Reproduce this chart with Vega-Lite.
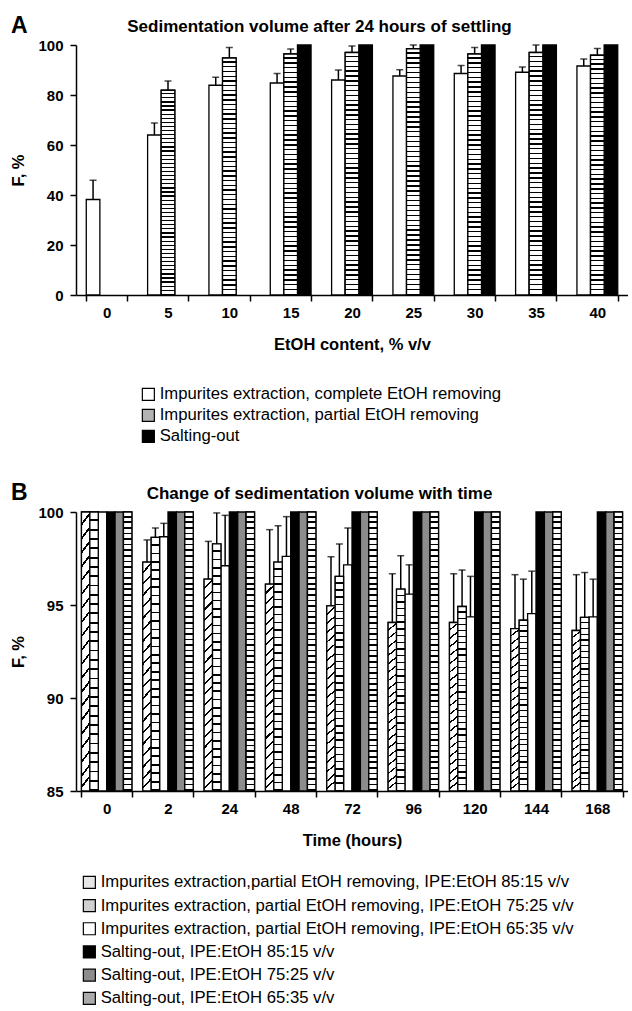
{
  "$schema": "https://vega.github.io/schema/vega-lite/v6.json",
  "padding": {"left": 10, "top": 15, "right": 0, "bottom": 0},
  "spacing": 36,
  "config": {
    "font": "Liberation Sans",
    "view": {"stroke": null},
    "axis": {
      "domainColor": "#000", "tickColor": "#000", "labelColor": "#000", "titleColor": "#000",
      "domainWidth": 1.5, "tickWidth": 1.5, "tickSize": 6, "grid": false,
      "labelFont": "Liberation Sans", "labelFontWeight": "bold", "labelFontSize": 15,
      "titleFont": "Liberation Sans", "titleFontWeight": "bold", "titleFontSize": 16.5
    },
    "title": {"font": "Liberation Sans", "fontWeight": "bold", "color": "#000"}
  },
  "datasets": {
    "a": [
      {"group": "0", "sa": "Impurites extraction, complete EtOH removing", "value": 38.2, "hi": 45.9},
      {"group": "5", "sa": "Impurites extraction, complete EtOH removing", "value": 64.0, "hi": 68.8},
      {"group": "5", "sa": "Impurites extraction, partial EtOH removing", "value": 81.9, "hi": 85.6},
      {"group": "10", "sa": "Impurites extraction, complete EtOH removing", "value": 83.9, "hi": 87.1},
      {"group": "10", "sa": "Impurites extraction, partial EtOH removing", "value": 94.8, "hi": 99.0},
      {"group": "15", "sa": "Impurites extraction, complete EtOH removing", "value": 84.8, "hi": 88.6},
      {"group": "15", "sa": "Impurites extraction, partial EtOH removing", "value": 96.4, "hi": 98.4},
      {"group": "15", "sa": "Salting-out", "value": 100},
      {"group": "20", "sa": "Impurites extraction, complete EtOH removing", "value": 86.0, "hi": 90.0},
      {"group": "20", "sa": "Impurites extraction, partial EtOH removing", "value": 97.0, "hi": 99.6},
      {"group": "20", "sa": "Salting-out", "value": 100},
      {"group": "25", "sa": "Impurites extraction, complete EtOH removing", "value": 87.6, "hi": 90.1},
      {"group": "25", "sa": "Impurites extraction, partial EtOH removing", "value": 98.5, "hi": 100},
      {"group": "25", "sa": "Salting-out", "value": 100},
      {"group": "30", "sa": "Impurites extraction, complete EtOH removing", "value": 88.6, "hi": 91.8},
      {"group": "30", "sa": "Impurites extraction, partial EtOH removing", "value": 96.4, "hi": 99.0},
      {"group": "30", "sa": "Salting-out", "value": 100},
      {"group": "35", "sa": "Impurites extraction, complete EtOH removing", "value": 89.1, "hi": 91.2},
      {"group": "35", "sa": "Impurites extraction, partial EtOH removing", "value": 97.0, "hi": 100},
      {"group": "35", "sa": "Salting-out", "value": 100},
      {"group": "40", "sa": "Impurites extraction, complete EtOH removing", "value": 91.6, "hi": 94.4},
      {"group": "40", "sa": "Impurites extraction, partial EtOH removing", "value": 95.9, "hi": 98.6},
      {"group": "40", "sa": "Salting-out", "value": 100}
    ],
    "b": [
      {"group": "0", "sb": "s1", "value": 100}, {"group": "0", "sb": "s2", "value": 100}, {"group": "0", "sb": "s3", "value": 100},
      {"group": "0", "sb": "s4", "value": 100}, {"group": "0", "sb": "s5", "value": 100}, {"group": "0", "sb": "s6", "value": 100},
      {"group": "2", "sb": "s1", "value": 97.3, "hi": 98.5}, {"group": "2", "sb": "s2", "value": 98.64, "hi": 99.14}, {"group": "2", "sb": "s3", "value": 98.67, "hi": 99.39},
      {"group": "2", "sb": "s4", "value": 100}, {"group": "2", "sb": "s5", "value": 100}, {"group": "2", "sb": "s6", "value": 100},
      {"group": "24", "sb": "s1", "value": 96.39, "hi": 98.42}, {"group": "24", "sb": "s2", "value": 98.29, "hi": 99.95}, {"group": "24", "sb": "s3", "value": 97.11, "hi": 99.82},
      {"group": "24", "sb": "s4", "value": 100}, {"group": "24", "sb": "s5", "value": 100}, {"group": "24", "sb": "s6", "value": 100},
      {"group": "48", "sb": "s1", "value": 96.12, "hi": 99.05}, {"group": "48", "sb": "s2", "value": 97.31, "hi": 99.26}, {"group": "48", "sb": "s3", "value": 97.61, "hi": 99.75},
      {"group": "48", "sb": "s4", "value": 100}, {"group": "48", "sb": "s5", "value": 100}, {"group": "48", "sb": "s6", "value": 100},
      {"group": "72", "sb": "s1", "value": 94.95, "hi": 97.59}, {"group": "72", "sb": "s2", "value": 96.54, "hi": 98.28}, {"group": "72", "sb": "s3", "value": 97.16, "hi": 99.14},
      {"group": "72", "sb": "s4", "value": 100}, {"group": "72", "sb": "s5", "value": 100}, {"group": "72", "sb": "s6", "value": 100},
      {"group": "96", "sb": "s1", "value": 94.06, "hi": 96.68}, {"group": "96", "sb": "s2", "value": 95.85, "hi": 97.65}, {"group": "96", "sb": "s3", "value": 95.58, "hi": 97.16},
      {"group": "96", "sb": "s4", "value": 100}, {"group": "96", "sb": "s5", "value": 100}, {"group": "96", "sb": "s6", "value": 100},
      {"group": "120", "sb": "s1", "value": 94.06, "hi": 96.68}, {"group": "120", "sb": "s2", "value": 94.92, "hi": 96.88}, {"group": "120", "sb": "s3", "value": 94.36, "hi": 96.54},
      {"group": "120", "sb": "s4", "value": 100}, {"group": "120", "sb": "s5", "value": 100}, {"group": "120", "sb": "s6", "value": 100},
      {"group": "144", "sb": "s1", "value": 93.73, "hi": 96.63}, {"group": "144", "sb": "s2", "value": 94.18, "hi": 96.39}, {"group": "144", "sb": "s3", "value": 94.54, "hi": 96.82},
      {"group": "144", "sb": "s4", "value": 100}, {"group": "144", "sb": "s5", "value": 100}, {"group": "144", "sb": "s6", "value": 100},
      {"group": "168", "sb": "s1", "value": 93.63, "hi": 96.63}, {"group": "168", "sb": "s2", "value": 94.33, "hi": 96.75}, {"group": "168", "sb": "s3", "value": 94.36, "hi": 96.39},
      {"group": "168", "sb": "s4", "value": 100}, {"group": "168", "sb": "s5", "value": 100}, {"group": "168", "sb": "s6", "value": 100}
    ]
  },
  "resolve": {
    "scale": {"x": "independent", "y": "independent", "fill": "independent", "xOffset": "independent"},
    "legend": {"fill": "independent"},
    "axis": {"x": "independent", "y": "independent"}
  },
  "vconcat": [
    {
      "title": {"text": "A", "anchor": "start", "fontSize": 23, "offset": -20, "frame": "bounds"},
      "vconcat": [
        {
          "title": {"text": "Sedimentation volume after 24 hours of settling", "fontSize": 17, "anchor": "middle", "frame": "bounds", "offset": 2},
          "width": 552,
          "height": 250,
          "data": {"name": "a"},
          "encoding": {
            "x": {
              "field": "group", "type": "ordinal",
              "sort": ["0", "5", "10", "15", "20", "25", "30", "35", "40"],
              "scale": {"paddingInner": 0.335, "paddingOuter": 0.1675},
              "axis": {"title": "EtOH content, % v/v", "labelAngle": 0, "tickBand": "extent", "labelPadding": 4, "titlePadding": 16}
            },
            "xOffset": {
              "field": "sa", "type": "nominal",
              "scale": {"domain": ["Impurites extraction, complete EtOH removing", "Impurites extraction, partial EtOH removing", "Salting-out"], "paddingInner": 0, "paddingOuter": 0}
            }
          },
          "layer": [
            {
              "mark": {"type": "bar", "stroke": "#000", "strokeWidth": 1.3},
              "encoding": {
                "y": {"field": "value", "type": "quantitative", "title": "F, %",
                  "scale": {"domain": [0, 100], "nice": false},
                  "axis": {"values": [0, 20, 40, 60, 80, 100], "labelPadding": 7, "titlePadding": 11}},
                "fill": {
                  "field": "sa", "type": "nominal",
                  "scale": {
                    "domain": ["Impurites extraction, complete EtOH removing", "Impurites extraction, partial EtOH removing", "Salting-out"],
                    "range": ["#ffffff", "#b3b3b3", "#000000"]
                  },
                  "legend": {
                    "orient": "none", "legendX": 64, "legendY": 341, "title": null, "direction": "vertical", "padding": 0,
                    "symbolType": "square", "symbolSize": 144, "symbolStrokeColor": "#000", "symbolStrokeWidth": 1.2,
                    "labelFont": "Liberation Sans", "labelFontSize": 16.7, "labelColor": "#000", "labelOffset": 3, "labelLimit": 600, "rowPadding": 2
                  }
                }
              }
            },
            {
              "transform": [{"filter": "datum.sa === 'Impurites extraction, partial EtOH removing'"}],
              "mark": {"type": "bar", "stroke": "#000", "strokeWidth": 1.3, "fill": {"gradient": "linear", "x1": 0, "y1": 0, "x2": 0, "y2": 1, "stops": [
                {"offset":0.014,"color":"#fff"},{"offset":0.014,"color":"#000"},{"offset":0.02,"color":"#000"},{"offset":0.02,"color":"#fff"},
                {"offset":0.034,"color":"#fff"},{"offset":0.034,"color":"#000"},{"offset":0.04,"color":"#000"},{"offset":0.04,"color":"#fff"},
                {"offset":0.054,"color":"#fff"},{"offset":0.054,"color":"#000"},{"offset":0.06,"color":"#000"},{"offset":0.06,"color":"#fff"},
                {"offset":0.074,"color":"#fff"},{"offset":0.074,"color":"#000"},{"offset":0.08,"color":"#000"},{"offset":0.08,"color":"#fff"},
                {"offset":0.094,"color":"#fff"},{"offset":0.094,"color":"#000"},{"offset":0.1,"color":"#000"},{"offset":0.1,"color":"#fff"},
                {"offset":0.114,"color":"#fff"},{"offset":0.114,"color":"#000"},{"offset":0.12,"color":"#000"},{"offset":0.12,"color":"#fff"},
                {"offset":0.134,"color":"#fff"},{"offset":0.134,"color":"#000"},{"offset":0.14,"color":"#000"},{"offset":0.14,"color":"#fff"},
                {"offset":0.154,"color":"#fff"},{"offset":0.154,"color":"#000"},{"offset":0.16,"color":"#000"},{"offset":0.16,"color":"#fff"},
                {"offset":0.174,"color":"#fff"},{"offset":0.174,"color":"#000"},{"offset":0.18,"color":"#000"},{"offset":0.18,"color":"#fff"},
                {"offset":0.194,"color":"#fff"},{"offset":0.194,"color":"#000"},{"offset":0.2,"color":"#000"},{"offset":0.2,"color":"#fff"},
                {"offset":0.214,"color":"#fff"},{"offset":0.214,"color":"#000"},{"offset":0.22,"color":"#000"},{"offset":0.22,"color":"#fff"},
                {"offset":0.234,"color":"#fff"},{"offset":0.234,"color":"#000"},{"offset":0.24,"color":"#000"},{"offset":0.24,"color":"#fff"},
                {"offset":0.254,"color":"#fff"},{"offset":0.254,"color":"#000"},{"offset":0.26,"color":"#000"},{"offset":0.26,"color":"#fff"},
                {"offset":0.274,"color":"#fff"},{"offset":0.274,"color":"#000"},{"offset":0.28,"color":"#000"},{"offset":0.28,"color":"#fff"},
                {"offset":0.294,"color":"#fff"},{"offset":0.294,"color":"#000"},{"offset":0.3,"color":"#000"},{"offset":0.3,"color":"#fff"},
                {"offset":0.314,"color":"#fff"},{"offset":0.314,"color":"#000"},{"offset":0.32,"color":"#000"},{"offset":0.32,"color":"#fff"},
                {"offset":0.334,"color":"#fff"},{"offset":0.334,"color":"#000"},{"offset":0.34,"color":"#000"},{"offset":0.34,"color":"#fff"},
                {"offset":0.354,"color":"#fff"},{"offset":0.354,"color":"#000"},{"offset":0.36,"color":"#000"},{"offset":0.36,"color":"#fff"},
                {"offset":0.374,"color":"#fff"},{"offset":0.374,"color":"#000"},{"offset":0.38,"color":"#000"},{"offset":0.38,"color":"#fff"},
                {"offset":0.394,"color":"#fff"},{"offset":0.394,"color":"#000"},{"offset":0.4,"color":"#000"},{"offset":0.4,"color":"#fff"},
                {"offset":0.414,"color":"#fff"},{"offset":0.414,"color":"#000"},{"offset":0.42,"color":"#000"},{"offset":0.42,"color":"#fff"},
                {"offset":0.434,"color":"#fff"},{"offset":0.434,"color":"#000"},{"offset":0.44,"color":"#000"},{"offset":0.44,"color":"#fff"},
                {"offset":0.454,"color":"#fff"},{"offset":0.454,"color":"#000"},{"offset":0.46,"color":"#000"},{"offset":0.46,"color":"#fff"},
                {"offset":0.474,"color":"#fff"},{"offset":0.474,"color":"#000"},{"offset":0.48,"color":"#000"},{"offset":0.48,"color":"#fff"},
                {"offset":0.494,"color":"#fff"},{"offset":0.494,"color":"#000"},{"offset":0.5,"color":"#000"},{"offset":0.5,"color":"#fff"},
                {"offset":0.514,"color":"#fff"},{"offset":0.514,"color":"#000"},{"offset":0.52,"color":"#000"},{"offset":0.52,"color":"#fff"},
                {"offset":0.534,"color":"#fff"},{"offset":0.534,"color":"#000"},{"offset":0.54,"color":"#000"},{"offset":0.54,"color":"#fff"},
                {"offset":0.554,"color":"#fff"},{"offset":0.554,"color":"#000"},{"offset":0.56,"color":"#000"},{"offset":0.56,"color":"#fff"},
                {"offset":0.574,"color":"#fff"},{"offset":0.574,"color":"#000"},{"offset":0.58,"color":"#000"},{"offset":0.58,"color":"#fff"},
                {"offset":0.594,"color":"#fff"},{"offset":0.594,"color":"#000"},{"offset":0.6,"color":"#000"},{"offset":0.6,"color":"#fff"},
                {"offset":0.614,"color":"#fff"},{"offset":0.614,"color":"#000"},{"offset":0.62,"color":"#000"},{"offset":0.62,"color":"#fff"},
                {"offset":0.634,"color":"#fff"},{"offset":0.634,"color":"#000"},{"offset":0.64,"color":"#000"},{"offset":0.64,"color":"#fff"},
                {"offset":0.654,"color":"#fff"},{"offset":0.654,"color":"#000"},{"offset":0.66,"color":"#000"},{"offset":0.66,"color":"#fff"},
                {"offset":0.674,"color":"#fff"},{"offset":0.674,"color":"#000"},{"offset":0.68,"color":"#000"},{"offset":0.68,"color":"#fff"},
                {"offset":0.694,"color":"#fff"},{"offset":0.694,"color":"#000"},{"offset":0.7,"color":"#000"},{"offset":0.7,"color":"#fff"},
                {"offset":0.714,"color":"#fff"},{"offset":0.714,"color":"#000"},{"offset":0.72,"color":"#000"},{"offset":0.72,"color":"#fff"},
                {"offset":0.734,"color":"#fff"},{"offset":0.734,"color":"#000"},{"offset":0.74,"color":"#000"},{"offset":0.74,"color":"#fff"},
                {"offset":0.754,"color":"#fff"},{"offset":0.754,"color":"#000"},{"offset":0.76,"color":"#000"},{"offset":0.76,"color":"#fff"},
                {"offset":0.774,"color":"#fff"},{"offset":0.774,"color":"#000"},{"offset":0.78,"color":"#000"},{"offset":0.78,"color":"#fff"},
                {"offset":0.794,"color":"#fff"},{"offset":0.794,"color":"#000"},{"offset":0.8,"color":"#000"},{"offset":0.8,"color":"#fff"},
                {"offset":0.814,"color":"#fff"},{"offset":0.814,"color":"#000"},{"offset":0.82,"color":"#000"},{"offset":0.82,"color":"#fff"},
                {"offset":0.834,"color":"#fff"},{"offset":0.834,"color":"#000"},{"offset":0.84,"color":"#000"},{"offset":0.84,"color":"#fff"},
                {"offset":0.854,"color":"#fff"},{"offset":0.854,"color":"#000"},{"offset":0.86,"color":"#000"},{"offset":0.86,"color":"#fff"},
                {"offset":0.874,"color":"#fff"},{"offset":0.874,"color":"#000"},{"offset":0.88,"color":"#000"},{"offset":0.88,"color":"#fff"},
                {"offset":0.894,"color":"#fff"},{"offset":0.894,"color":"#000"},{"offset":0.9,"color":"#000"},{"offset":0.9,"color":"#fff"},
                {"offset":0.914,"color":"#fff"},{"offset":0.914,"color":"#000"},{"offset":0.92,"color":"#000"},{"offset":0.92,"color":"#fff"},
                {"offset":0.934,"color":"#fff"},{"offset":0.934,"color":"#000"},{"offset":0.94,"color":"#000"},{"offset":0.94,"color":"#fff"},
                {"offset":0.954,"color":"#fff"},{"offset":0.954,"color":"#000"},{"offset":0.96,"color":"#000"},{"offset":0.96,"color":"#fff"},
                {"offset":0.974,"color":"#fff"},{"offset":0.974,"color":"#000"},{"offset":0.98,"color":"#000"},{"offset":0.98,"color":"#fff"},
                {"offset":0.994,"color":"#fff"},{"offset":0.994,"color":"#000"},{"offset":1,"color":"#000"}
              ]}},
              "encoding": {"y": {"field": "value", "type": "quantitative", "title": "F, %"}}
            },
            {
              "transform": [{"filter": "datum.hi != null"}],
              "mark": {"type": "rule", "color": "#000", "strokeWidth": 1.5},
              "encoding": {"y": {"field": "value", "type": "quantitative", "title": "F, %"}, "y2": {"field": "hi"}}
            },
            {
              "transform": [{"filter": "datum.hi != null"}],
              "mark": {"type": "tick", "color": "#000", "thickness": 1.5, "size": 7, "orient": "horizontal"},
              "encoding": {"y": {"field": "hi", "type": "quantitative", "title": "F, %"}}
            }
          ]
        }
      ]
    },
    {
      "title": {"text": "B", "anchor": "start", "fontSize": 23, "offset": -20, "frame": "bounds"},
      "vconcat": [
        {
          "title": {"text": "Change of sedimentation volume with time", "fontSize": 17, "anchor": "middle", "frame": "bounds", "offset": 2},
          "width": 552,
          "height": 279,
          "data": {"name": "b"},
          "encoding": {
            "x": {
              "field": "group", "type": "ordinal",
              "sort": ["0", "2", "24", "48", "72", "96", "120", "144", "168"],
              "scale": {"paddingInner": 0.178, "paddingOuter": 0.089},
              "axis": {"title": "Time (hours)", "labelAngle": 0, "tickBand": "extent", "labelPadding": 4, "titlePadding": 16}
            },
            "xOffset": {
              "field": "sb", "type": "nominal",
              "scale": {"domain": ["s1", "s2", "s3", "s4", "s5", "s6"], "paddingInner": 0, "paddingOuter": 0}
            }
          },
          "layer": [
            {
              "mark": {"type": "bar", "stroke": "#000", "strokeWidth": 1.3},
              "encoding": {
                "y": {"field": "value", "type": "quantitative", "title": "F, %",
                  "scale": {"domain": [85, 100], "nice": false, "zero": false},
                  "axis": {"values": [85, 90, 95, 100], "labelPadding": 7, "titlePadding": 11}},
                "y2": {"datum": 85},
                "fill": {
                  "field": "sb", "type": "nominal",
                  "scale": {"domain": ["s1", "s2", "s3", "s4", "s5", "s6"], "range": ["#e6e6e6", "#d0d0d0", "#ffffff", "#000000", "#8c8c8c", "#aaaaaa"]},
                  "legend": {
                    "orient": "none", "legendX": 5, "legendY": 362, "title": null, "direction": "vertical", "padding": 0,
                    "symbolType": "square", "symbolSize": 144, "symbolStrokeColor": "#000", "symbolStrokeWidth": 1.2,
                    "labelFont": "Liberation Sans", "labelFontSize": 16.7, "labelColor": "#000", "labelOffset": 3, "labelLimit": 600, "rowPadding": 4.2,
                    "labelExpr": "datum.value === 's1' ? 'Impurites extraction,partial EtOH removing, IPE:EtOH 85:15 v/v' : datum.value === 's2' ? 'Impurites extraction, partial EtOH removing, IPE:EtOH 75:25 v/v' : datum.value === 's3' ? 'Impurites extraction, partial EtOH removing, IPE:EtOH 65:35 v/v' : datum.value === 's4' ? 'Salting-out, IPE:EtOH 85:15 v/v' : datum.value === 's5' ? 'Salting-out, IPE:EtOH 75:25 v/v' : 'Salting-out, IPE:EtOH 65:35 v/v'"
                  }
                }
              }
            },
            {
              "transform": [{"filter": "datum.sb === 's1'"}],
              "mark": {"type": "bar", "stroke": "#000", "strokeWidth": 1.3, "fill": {"gradient": "linear", "x1": 0, "y1": 0, "x2": 0.04, "y2": 1, "stops": [
                {"offset":0.04,"color":"#fff"},{"offset":0.04,"color":"#000"},{"offset":0.05,"color":"#000"},{"offset":0.05,"color":"#fff"},
                {"offset":0.09,"color":"#fff"},{"offset":0.09,"color":"#000"},{"offset":0.1,"color":"#000"},{"offset":0.1,"color":"#fff"},
                {"offset":0.14,"color":"#fff"},{"offset":0.14,"color":"#000"},{"offset":0.15,"color":"#000"},{"offset":0.15,"color":"#fff"},
                {"offset":0.19,"color":"#fff"},{"offset":0.19,"color":"#000"},{"offset":0.2,"color":"#000"},{"offset":0.2,"color":"#fff"},
                {"offset":0.24,"color":"#fff"},{"offset":0.24,"color":"#000"},{"offset":0.25,"color":"#000"},{"offset":0.25,"color":"#fff"},
                {"offset":0.29,"color":"#fff"},{"offset":0.29,"color":"#000"},{"offset":0.3,"color":"#000"},{"offset":0.3,"color":"#fff"},
                {"offset":0.34,"color":"#fff"},{"offset":0.34,"color":"#000"},{"offset":0.35,"color":"#000"},{"offset":0.35,"color":"#fff"},
                {"offset":0.39,"color":"#fff"},{"offset":0.39,"color":"#000"},{"offset":0.4,"color":"#000"},{"offset":0.4,"color":"#fff"},
                {"offset":0.44,"color":"#fff"},{"offset":0.44,"color":"#000"},{"offset":0.45,"color":"#000"},{"offset":0.45,"color":"#fff"},
                {"offset":0.49,"color":"#fff"},{"offset":0.49,"color":"#000"},{"offset":0.5,"color":"#000"},{"offset":0.5,"color":"#fff"},
                {"offset":0.54,"color":"#fff"},{"offset":0.54,"color":"#000"},{"offset":0.55,"color":"#000"},{"offset":0.55,"color":"#fff"},
                {"offset":0.59,"color":"#fff"},{"offset":0.59,"color":"#000"},{"offset":0.6,"color":"#000"},{"offset":0.6,"color":"#fff"},
                {"offset":0.64,"color":"#fff"},{"offset":0.64,"color":"#000"},{"offset":0.65,"color":"#000"},{"offset":0.65,"color":"#fff"},
                {"offset":0.69,"color":"#fff"},{"offset":0.69,"color":"#000"},{"offset":0.7,"color":"#000"},{"offset":0.7,"color":"#fff"},
                {"offset":0.74,"color":"#fff"},{"offset":0.74,"color":"#000"},{"offset":0.75,"color":"#000"},{"offset":0.75,"color":"#fff"},
                {"offset":0.79,"color":"#fff"},{"offset":0.79,"color":"#000"},{"offset":0.8,"color":"#000"},{"offset":0.8,"color":"#fff"},
                {"offset":0.84,"color":"#fff"},{"offset":0.84,"color":"#000"},{"offset":0.85,"color":"#000"},{"offset":0.85,"color":"#fff"},
                {"offset":0.89,"color":"#fff"},{"offset":0.89,"color":"#000"},{"offset":0.9,"color":"#000"},{"offset":0.9,"color":"#fff"},
                {"offset":0.94,"color":"#fff"},{"offset":0.94,"color":"#000"},{"offset":0.95,"color":"#000"},{"offset":0.95,"color":"#fff"},
                {"offset":0.98,"color":"#fff"},{"offset":0.98,"color":"#000"},{"offset":0.99,"color":"#000"},{"offset":0.99,"color":"#fff"},{"offset":1,"color":"#fff"}
              ]}},
              "encoding": {"y": {"field": "value", "type": "quantitative", "title": "F, %"}, "y2": {"datum": 85}}
            },
            {
              "transform": [{"filter": "datum.sb === 's2'"}],
              "mark": {"type": "bar", "stroke": "#000", "strokeWidth": 1.3, "fill": {"gradient": "linear", "x1": 0, "y1": 0, "x2": 0, "y2": 1, "stops": [
                {"offset":0.0267,"color":"#fff"},{"offset":0.0267,"color":"#000"},{"offset":0.0333,"color":"#000"},{"offset":0.0333,"color":"#fff"},
                {"offset":0.06,"color":"#fff"},{"offset":0.06,"color":"#000"},{"offset":0.0667,"color":"#000"},{"offset":0.0667,"color":"#fff"},
                {"offset":0.0933,"color":"#fff"},{"offset":0.0933,"color":"#000"},{"offset":0.1,"color":"#000"},{"offset":0.1,"color":"#fff"},
                {"offset":0.1267,"color":"#fff"},{"offset":0.1267,"color":"#000"},{"offset":0.1333,"color":"#000"},{"offset":0.1333,"color":"#fff"},
                {"offset":0.16,"color":"#fff"},{"offset":0.16,"color":"#000"},{"offset":0.1667,"color":"#000"},{"offset":0.1667,"color":"#fff"},
                {"offset":0.1933,"color":"#fff"},{"offset":0.1933,"color":"#000"},{"offset":0.2,"color":"#000"},{"offset":0.2,"color":"#fff"},
                {"offset":0.2267,"color":"#fff"},{"offset":0.2267,"color":"#000"},{"offset":0.2333,"color":"#000"},{"offset":0.2333,"color":"#fff"},
                {"offset":0.26,"color":"#fff"},{"offset":0.26,"color":"#000"},{"offset":0.2667,"color":"#000"},{"offset":0.2667,"color":"#fff"},
                {"offset":0.2933,"color":"#fff"},{"offset":0.2933,"color":"#000"},{"offset":0.3,"color":"#000"},{"offset":0.3,"color":"#fff"},
                {"offset":0.3267,"color":"#fff"},{"offset":0.3267,"color":"#000"},{"offset":0.3333,"color":"#000"},{"offset":0.3333,"color":"#fff"},
                {"offset":0.36,"color":"#fff"},{"offset":0.36,"color":"#000"},{"offset":0.3667,"color":"#000"},{"offset":0.3667,"color":"#fff"},
                {"offset":0.3933,"color":"#fff"},{"offset":0.3933,"color":"#000"},{"offset":0.4,"color":"#000"},{"offset":0.4,"color":"#fff"},
                {"offset":0.4267,"color":"#fff"},{"offset":0.4267,"color":"#000"},{"offset":0.4333,"color":"#000"},{"offset":0.4333,"color":"#fff"},
                {"offset":0.46,"color":"#fff"},{"offset":0.46,"color":"#000"},{"offset":0.4667,"color":"#000"},{"offset":0.4667,"color":"#fff"},
                {"offset":0.4933,"color":"#fff"},{"offset":0.4933,"color":"#000"},{"offset":0.5,"color":"#000"},{"offset":0.5,"color":"#fff"},
                {"offset":0.5267,"color":"#fff"},{"offset":0.5267,"color":"#000"},{"offset":0.5333,"color":"#000"},{"offset":0.5333,"color":"#fff"},
                {"offset":0.56,"color":"#fff"},{"offset":0.56,"color":"#000"},{"offset":0.5667,"color":"#000"},{"offset":0.5667,"color":"#fff"},
                {"offset":0.5933,"color":"#fff"},{"offset":0.5933,"color":"#000"},{"offset":0.6,"color":"#000"},{"offset":0.6,"color":"#fff"},
                {"offset":0.6267,"color":"#fff"},{"offset":0.6267,"color":"#000"},{"offset":0.6333,"color":"#000"},{"offset":0.6333,"color":"#fff"},
                {"offset":0.66,"color":"#fff"},{"offset":0.66,"color":"#000"},{"offset":0.6667,"color":"#000"},{"offset":0.6667,"color":"#fff"},
                {"offset":0.6933,"color":"#fff"},{"offset":0.6933,"color":"#000"},{"offset":0.7,"color":"#000"},{"offset":0.7,"color":"#fff"},
                {"offset":0.7267,"color":"#fff"},{"offset":0.7267,"color":"#000"},{"offset":0.7333,"color":"#000"},{"offset":0.7333,"color":"#fff"},
                {"offset":0.76,"color":"#fff"},{"offset":0.76,"color":"#000"},{"offset":0.7667,"color":"#000"},{"offset":0.7667,"color":"#fff"},
                {"offset":0.7933,"color":"#fff"},{"offset":0.7933,"color":"#000"},{"offset":0.8,"color":"#000"},{"offset":0.8,"color":"#fff"},
                {"offset":0.8267,"color":"#fff"},{"offset":0.8267,"color":"#000"},{"offset":0.8333,"color":"#000"},{"offset":0.8333,"color":"#fff"},
                {"offset":0.86,"color":"#fff"},{"offset":0.86,"color":"#000"},{"offset":0.8667,"color":"#000"},{"offset":0.8667,"color":"#fff"},
                {"offset":0.8933,"color":"#fff"},{"offset":0.8933,"color":"#000"},{"offset":0.9,"color":"#000"},{"offset":0.9,"color":"#fff"},
                {"offset":0.9267,"color":"#fff"},{"offset":0.9267,"color":"#000"},{"offset":0.9333,"color":"#000"},{"offset":0.9333,"color":"#fff"},
                {"offset":0.96,"color":"#fff"},{"offset":0.96,"color":"#000"},{"offset":0.9667,"color":"#000"},{"offset":0.9667,"color":"#fff"},
                {"offset":0.9933,"color":"#fff"},{"offset":0.9933,"color":"#000"},{"offset":1,"color":"#000"}
              ]}},
              "encoding": {"y": {"field": "value", "type": "quantitative", "title": "F, %"}, "y2": {"datum": 85}}
            },
            {
              "transform": [{"filter": "datum.sb === 's6'"}],
              "mark": {"type": "bar", "stroke": "#000", "strokeWidth": 1.3, "fill": {"gradient": "linear", "x1": 0, "y1": 0, "x2": 0, "y2": 1, "stops": [
                {"offset":0.014,"color":"#fff"},{"offset":0.014,"color":"#000"},{"offset":0.02,"color":"#000"},{"offset":0.02,"color":"#fff"},
                {"offset":0.034,"color":"#fff"},{"offset":0.034,"color":"#000"},{"offset":0.04,"color":"#000"},{"offset":0.04,"color":"#fff"},
                {"offset":0.054,"color":"#fff"},{"offset":0.054,"color":"#000"},{"offset":0.06,"color":"#000"},{"offset":0.06,"color":"#fff"},
                {"offset":0.074,"color":"#fff"},{"offset":0.074,"color":"#000"},{"offset":0.08,"color":"#000"},{"offset":0.08,"color":"#fff"},
                {"offset":0.094,"color":"#fff"},{"offset":0.094,"color":"#000"},{"offset":0.1,"color":"#000"},{"offset":0.1,"color":"#fff"},
                {"offset":0.114,"color":"#fff"},{"offset":0.114,"color":"#000"},{"offset":0.12,"color":"#000"},{"offset":0.12,"color":"#fff"},
                {"offset":0.134,"color":"#fff"},{"offset":0.134,"color":"#000"},{"offset":0.14,"color":"#000"},{"offset":0.14,"color":"#fff"},
                {"offset":0.154,"color":"#fff"},{"offset":0.154,"color":"#000"},{"offset":0.16,"color":"#000"},{"offset":0.16,"color":"#fff"},
                {"offset":0.174,"color":"#fff"},{"offset":0.174,"color":"#000"},{"offset":0.18,"color":"#000"},{"offset":0.18,"color":"#fff"},
                {"offset":0.194,"color":"#fff"},{"offset":0.194,"color":"#000"},{"offset":0.2,"color":"#000"},{"offset":0.2,"color":"#fff"},
                {"offset":0.214,"color":"#fff"},{"offset":0.214,"color":"#000"},{"offset":0.22,"color":"#000"},{"offset":0.22,"color":"#fff"},
                {"offset":0.234,"color":"#fff"},{"offset":0.234,"color":"#000"},{"offset":0.24,"color":"#000"},{"offset":0.24,"color":"#fff"},
                {"offset":0.254,"color":"#fff"},{"offset":0.254,"color":"#000"},{"offset":0.26,"color":"#000"},{"offset":0.26,"color":"#fff"},
                {"offset":0.274,"color":"#fff"},{"offset":0.274,"color":"#000"},{"offset":0.28,"color":"#000"},{"offset":0.28,"color":"#fff"},
                {"offset":0.294,"color":"#fff"},{"offset":0.294,"color":"#000"},{"offset":0.3,"color":"#000"},{"offset":0.3,"color":"#fff"},
                {"offset":0.314,"color":"#fff"},{"offset":0.314,"color":"#000"},{"offset":0.32,"color":"#000"},{"offset":0.32,"color":"#fff"},
                {"offset":0.334,"color":"#fff"},{"offset":0.334,"color":"#000"},{"offset":0.34,"color":"#000"},{"offset":0.34,"color":"#fff"},
                {"offset":0.354,"color":"#fff"},{"offset":0.354,"color":"#000"},{"offset":0.36,"color":"#000"},{"offset":0.36,"color":"#fff"},
                {"offset":0.374,"color":"#fff"},{"offset":0.374,"color":"#000"},{"offset":0.38,"color":"#000"},{"offset":0.38,"color":"#fff"},
                {"offset":0.394,"color":"#fff"},{"offset":0.394,"color":"#000"},{"offset":0.4,"color":"#000"},{"offset":0.4,"color":"#fff"},
                {"offset":0.414,"color":"#fff"},{"offset":0.414,"color":"#000"},{"offset":0.42,"color":"#000"},{"offset":0.42,"color":"#fff"},
                {"offset":0.434,"color":"#fff"},{"offset":0.434,"color":"#000"},{"offset":0.44,"color":"#000"},{"offset":0.44,"color":"#fff"},
                {"offset":0.454,"color":"#fff"},{"offset":0.454,"color":"#000"},{"offset":0.46,"color":"#000"},{"offset":0.46,"color":"#fff"},
                {"offset":0.474,"color":"#fff"},{"offset":0.474,"color":"#000"},{"offset":0.48,"color":"#000"},{"offset":0.48,"color":"#fff"},
                {"offset":0.494,"color":"#fff"},{"offset":0.494,"color":"#000"},{"offset":0.5,"color":"#000"},{"offset":0.5,"color":"#fff"},
                {"offset":0.514,"color":"#fff"},{"offset":0.514,"color":"#000"},{"offset":0.52,"color":"#000"},{"offset":0.52,"color":"#fff"},
                {"offset":0.534,"color":"#fff"},{"offset":0.534,"color":"#000"},{"offset":0.54,"color":"#000"},{"offset":0.54,"color":"#fff"},
                {"offset":0.554,"color":"#fff"},{"offset":0.554,"color":"#000"},{"offset":0.56,"color":"#000"},{"offset":0.56,"color":"#fff"},
                {"offset":0.574,"color":"#fff"},{"offset":0.574,"color":"#000"},{"offset":0.58,"color":"#000"},{"offset":0.58,"color":"#fff"},
                {"offset":0.594,"color":"#fff"},{"offset":0.594,"color":"#000"},{"offset":0.6,"color":"#000"},{"offset":0.6,"color":"#fff"},
                {"offset":0.614,"color":"#fff"},{"offset":0.614,"color":"#000"},{"offset":0.62,"color":"#000"},{"offset":0.62,"color":"#fff"},
                {"offset":0.634,"color":"#fff"},{"offset":0.634,"color":"#000"},{"offset":0.64,"color":"#000"},{"offset":0.64,"color":"#fff"},
                {"offset":0.654,"color":"#fff"},{"offset":0.654,"color":"#000"},{"offset":0.66,"color":"#000"},{"offset":0.66,"color":"#fff"},
                {"offset":0.674,"color":"#fff"},{"offset":0.674,"color":"#000"},{"offset":0.68,"color":"#000"},{"offset":0.68,"color":"#fff"},
                {"offset":0.694,"color":"#fff"},{"offset":0.694,"color":"#000"},{"offset":0.7,"color":"#000"},{"offset":0.7,"color":"#fff"},
                {"offset":0.714,"color":"#fff"},{"offset":0.714,"color":"#000"},{"offset":0.72,"color":"#000"},{"offset":0.72,"color":"#fff"},
                {"offset":0.734,"color":"#fff"},{"offset":0.734,"color":"#000"},{"offset":0.74,"color":"#000"},{"offset":0.74,"color":"#fff"},
                {"offset":0.754,"color":"#fff"},{"offset":0.754,"color":"#000"},{"offset":0.76,"color":"#000"},{"offset":0.76,"color":"#fff"},
                {"offset":0.774,"color":"#fff"},{"offset":0.774,"color":"#000"},{"offset":0.78,"color":"#000"},{"offset":0.78,"color":"#fff"},
                {"offset":0.794,"color":"#fff"},{"offset":0.794,"color":"#000"},{"offset":0.8,"color":"#000"},{"offset":0.8,"color":"#fff"},
                {"offset":0.814,"color":"#fff"},{"offset":0.814,"color":"#000"},{"offset":0.82,"color":"#000"},{"offset":0.82,"color":"#fff"},
                {"offset":0.834,"color":"#fff"},{"offset":0.834,"color":"#000"},{"offset":0.84,"color":"#000"},{"offset":0.84,"color":"#fff"},
                {"offset":0.854,"color":"#fff"},{"offset":0.854,"color":"#000"},{"offset":0.86,"color":"#000"},{"offset":0.86,"color":"#fff"},
                {"offset":0.874,"color":"#fff"},{"offset":0.874,"color":"#000"},{"offset":0.88,"color":"#000"},{"offset":0.88,"color":"#fff"},
                {"offset":0.894,"color":"#fff"},{"offset":0.894,"color":"#000"},{"offset":0.9,"color":"#000"},{"offset":0.9,"color":"#fff"},
                {"offset":0.914,"color":"#fff"},{"offset":0.914,"color":"#000"},{"offset":0.92,"color":"#000"},{"offset":0.92,"color":"#fff"},
                {"offset":0.934,"color":"#fff"},{"offset":0.934,"color":"#000"},{"offset":0.94,"color":"#000"},{"offset":0.94,"color":"#fff"},
                {"offset":0.954,"color":"#fff"},{"offset":0.954,"color":"#000"},{"offset":0.96,"color":"#000"},{"offset":0.96,"color":"#fff"},
                {"offset":0.974,"color":"#fff"},{"offset":0.974,"color":"#000"},{"offset":0.98,"color":"#000"},{"offset":0.98,"color":"#fff"},
                {"offset":0.994,"color":"#fff"},{"offset":0.994,"color":"#000"},{"offset":1,"color":"#000"}
              ]}},
              "encoding": {"y": {"field": "value", "type": "quantitative", "title": "F, %"}, "y2": {"datum": 85}}
            },
            {
              "transform": [{"filter": "datum.hi != null"}],
              "mark": {"type": "rule", "color": "#000", "strokeWidth": 1.5},
              "encoding": {"y": {"field": "value", "type": "quantitative", "title": "F, %"}, "y2": {"field": "hi"}}
            },
            {
              "transform": [{"filter": "datum.hi != null"}],
              "mark": {"type": "tick", "color": "#000", "thickness": 1.5, "size": 7, "orient": "horizontal"},
              "encoding": {"y": {"field": "hi", "type": "quantitative", "title": "F, %"}}
            }
          ]
        }
      ]
    }
  ]
}
